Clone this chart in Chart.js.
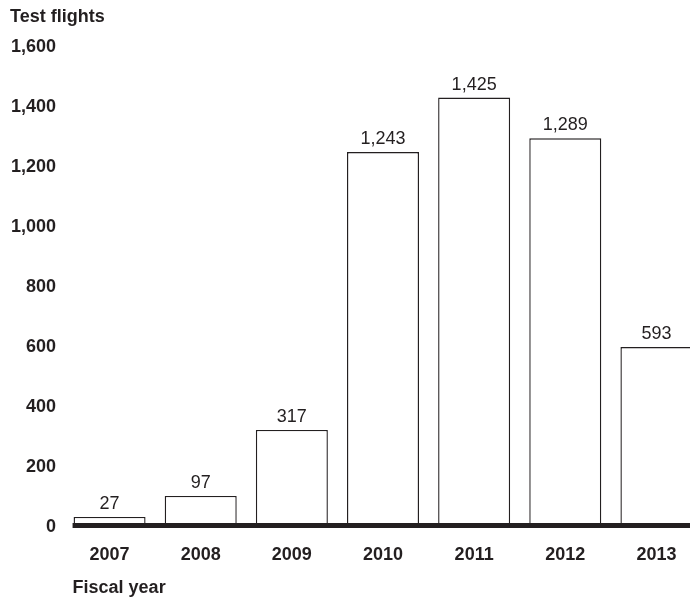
<!DOCTYPE html>
<html>
<head>
<meta charset="utf-8">
<script src="https://cdn.jsdelivr.net/npm/chart.js@4.4.0/dist/chart.umd.min.js"></script>
<style>
  html, body { margin: 0; padding: 0; background: #fff; overflow: hidden; }
  #wrap { width: 720px; height: 597px; }
</style>
</head>
<body>
<div id="wrap"><canvas id="c" width="720" height="597"></canvas></div>
<script>
const categories = ["2007", "2008", "2009", "2010", "2011", "2012", "2013"];
const testFlights = [27, 97, 317, 1243, 1425, 1289, 593];
const yTicks = [0, 200, 400, 600, 800, 1000, 1200, 1400, 1600];

const FONT = "'Liberation Sans', Arial, Helvetica, sans-serif";
const INK = '#231f20';

const decor = {
  id: 'decor',
  afterDatasetsDraw(chart) {
    const ctx = chart.ctx;
    const meta = chart.getDatasetMeta(0);
    const y0 = chart.scales.y.getPixelForValue(0);
    ctx.save();
    // thick baseline
    const first = meta.data[0];
    const left = first.x - first.width / 2 - 1;
    ctx.fillStyle = INK;
    ctx.fillRect(left, y0 - 2, chart.width - left, 5);
    // value labels
    ctx.font = '18px ' + FONT;
    ctx.fillStyle = INK;
    ctx.textAlign = 'center';
    ctx.textBaseline = 'alphabetic';
    meta.data.forEach((bar, i) => {
      ctx.fillText(testFlights[i].toLocaleString('en-US'), bar.x, bar.y - 8);
    });
    // titles
    ctx.font = 'bold 18px ' + FONT;
    ctx.textAlign = 'left';
    ctx.fillText('Test flights', 10, 22);
    ctx.fillText('Fiscal year', left, 593);
    ctx.restore();
  }
};

new Chart(document.getElementById('c'), {
  type: 'bar',
  data: {
    labels: categories,
    datasets: [{
      data: testFlights,
      backgroundColor: '#ffffff',
      borderColor: INK,
      borderWidth: 1.4,
      borderSkipped: 'bottom',
      categoryPercentage: 1,
      barPercentage: 0.79
    }]
  },
  options: {
    responsive: false,
    animation: false,
    devicePixelRatio: 1,
    layout: { padding: { top: 45, right: 18, bottom: 0, left: 0 } },
    plugins: { legend: { display: false }, tooltip: { enabled: false }, title: { display: false } },
    scales: {
      x: {
        grid: { display: false, drawTicks: false },
        border: { display: false },
        ticks: { color: INK, font: { family: FONT, size: 18, weight: 'bold' }, padding: 19, maxRotation: 0 },
        afterFit(scale) { scale.height = 72; }
      },
      y: {
        min: 0, max: 1600,
        grid: { display: false, drawTicks: false },
        border: { display: false },
        afterBuildTicks(scale) { scale.ticks = yTicks.map(v => ({ value: v })); },
        ticks: {
          color: INK,
          font: { family: FONT, size: 18, weight: 'bold' },
          padding: 8,
          labelOffset: 2,
          callback: v => v.toLocaleString('en-US')
        },
        afterFit(scale) { scale.width = 64; }
      }
    }
  },
  plugins: [decor]
});
</script>
</body>
</html>
